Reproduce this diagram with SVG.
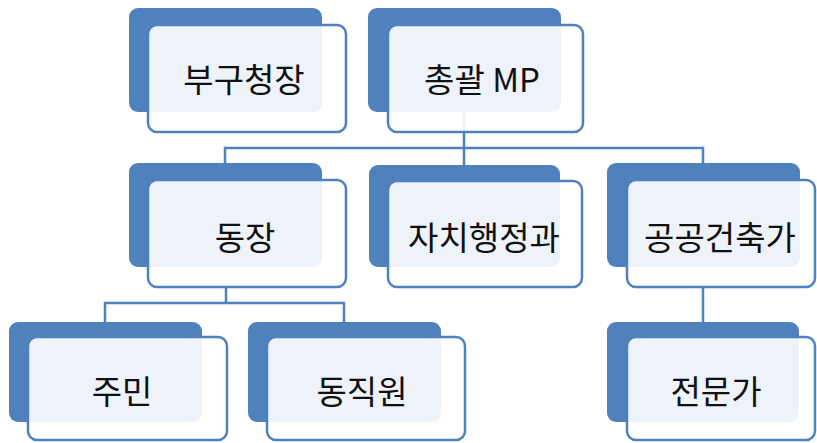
<svg xmlns="http://www.w3.org/2000/svg" width="817" height="443" viewBox="0 0 817 443">
<style>
.back{fill:#4f81bd;}
.front{fill:#ffffff;fill-opacity:0.9;stroke:#4f81bd;stroke-width:2.5;}
.conn{fill:none;stroke:#4f81bd;stroke-width:2.5;}
.lbl{font-family:"Noto Sans CJK KR","Noto Sans",sans-serif;font-size:33px;fill:#111;text-anchor:middle;dominant-baseline:central;}
</style>
<rect width="817" height="443" fill="#ffffff"/>
<g id="connectors">
<path class="conn" d="M464 112 V148 M225 163 V148 H703 V163 M464 148 V165"/>
<path class="conn" d="M226 287 V303 M105 322 V303 H344 V322"/>
<path class="conn" d="M703 287 V322"/>
</g>
<g id="n1">
<rect class="back" x="129" y="8" width="193" height="104" rx="9"/>
<rect class="front" x="148" y="25" width="198" height="107" rx="9"/>
<text class="lbl" x="244" y="78">부구청장</text>
</g>
<g id="n2">
<rect class="back" x="368" y="8" width="193" height="104" rx="9"/>
<rect class="front" x="388" y="25" width="195" height="107" rx="9"/>
<text class="lbl" x="482" y="78">총괄 MP</text>
</g>
<g id="n3">
<rect class="back" x="129" y="163" width="193" height="104" rx="9"/>
<rect class="front" x="148" y="180" width="198" height="107" rx="9"/>
<text class="lbl" x="245" y="236">동장</text>
</g>
<g id="n4">
<rect class="back" x="369" y="165" width="191" height="102" rx="9"/>
<rect class="front" x="388" y="181" width="194" height="106" rx="9"/>
<text class="lbl" x="484" y="236">자치행정과</text>
</g>
<g id="n5">
<rect class="back" x="607" y="163" width="193" height="104" rx="9"/>
<rect class="front" x="627" y="180" width="188" height="107" rx="9"/>
<text class="lbl" x="720" y="236">공공건축가</text>
</g>
<g id="n6">
<rect class="back" x="9" y="322" width="193" height="100" rx="9"/>
<rect class="front" x="28" y="337" width="199" height="103" rx="9"/>
<text class="lbl" x="122" y="390">주민</text>
</g>
<g id="n7">
<rect class="back" x="248" y="322" width="193" height="100" rx="9"/>
<rect class="front" x="267" y="337" width="198" height="103" rx="9"/>
<text class="lbl" x="362" y="390">동직원</text>
</g>
<g id="n8">
<rect class="back" x="607" y="322" width="192" height="100" rx="9"/>
<rect class="front" x="627" y="337" width="188" height="103" rx="9"/>
<text class="lbl" x="716" y="390">전문가</text>
</g>
</svg>
